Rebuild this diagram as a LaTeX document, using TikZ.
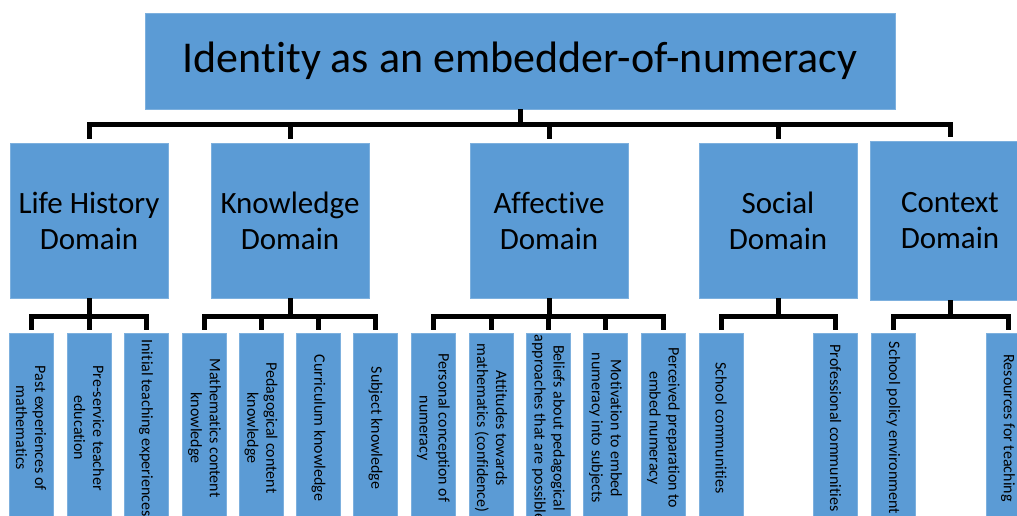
\documentclass[tikz,border=0pt]{standalone}
\usepackage{fontspec}
\setmainfont{Carlito}[Ligatures=NoCommon]
\usepackage{tikz}
\usetikzlibrary{calc}
\definecolor{boxblue}{HTML}{5B9BD5}
\definecolor{boxedge}{HTML}{7DB0DE}
\tikzset{
  block/.style={fill=boxblue,draw=boxedge,line width=0.6pt,inner sep=0pt,align=center,text=black},
  rootbox/.style={block,minimum width=750pt,minimum height=96pt,font=\fontsize{44}{50}\selectfont},
  domainbox/.style={block,minimum width=158pt,minimum height=155pt,font=\fontsize{31}{36}\selectfont},
  leafbox/.style={block,minimum width=44pt,minimum height=190pt},
  link/.style={line width=5pt,draw=black}
}
\newcommand{\leaftext}[1]{\rotatebox{-90}{\parbox{190pt}{\centering\fontsize{16}{19}\selectfont #1}}}

\begin{document}
\begin{tikzpicture}[x=1pt,y=-1pt]
	\useasboundingbox (0,0) rectangle (1017,515);
	% root
	\node[rootbox] (top) at (520,61) {Identity as an embedder-of-numeracy};
	% domains
	\node[domainbox] (lh) at (89,220.5) {Life History\\Domain};
	\node[domainbox] (kn) at (290,220.5) {Knowledge\\Domain};
	\node[domainbox] (af) at (549,220.5) {Affective\\Domain};
	\node[domainbox] (so) at (778,220.5) {Social\\Domain};
	\node[domainbox,minimum width=160pt,minimum height=159pt] (co) at (950,220.5) {Context\\Domain};
	\foreach \c in {lh,kn,af,so,co}
		\draw[link] (top.south) -- ++(0,15.5) -| ([yshift=4pt]\c.north);
	% life history
	\node[leafbox] (lh1) at (31,428) {\leaftext{Past experiences of\\mathematics}};
	\node[leafbox] (lh2) at (89,428) {\leaftext{Pre-service teacher\\education}};
	\node[leafbox] (lh3) at (146,428) {\leaftext{Initial teaching experiences}};
	% knowledge
	\node[leafbox] (kn1) at (204.5,428) {\leaftext{Mathematics content\\knowledge}};
	\node[leafbox] (kn2) at (261,428) {\leaftext{Pedagogical content\\knowledge}};
	\node[leafbox] (kn3) at (318.5,428) {\leaftext{Curriculum knowledge}};
	\node[leafbox] (kn4) at (375.5,428) {\leaftext{Subject knowledge}};
	% affective
	\node[leafbox] (af1) at (433.5,428) {\leaftext{Personal conception of\\numeracy}};
	\node[leafbox] (af2) at (491,428) {\leaftext{Attitudes towards\\mathematics (confidence)}};
	\node[leafbox] (af3) at (548.5,428) {\leaftext{Beliefs about pedagogical\\approaches that are possible}};
	\node[leafbox] (af4) at (605.5,428) {\leaftext{Motivation to embed\\numeracy into subjects}};
	\node[leafbox] (af5) at (663.5,428) {\leaftext{Perceived preparation to\\embed numeracy}};
	% social
	\node[leafbox] (so1) at (721,428) {\leaftext{School communities}};
	\node[leafbox] (so2) at (835.5,428) {\leaftext{Professional communities}};
	% context
	\node[leafbox] (co1) at (893.5,428) {\leaftext{School policy environment}};
	\node[leafbox] (co2) at (1008,428) {\leaftext{Resources for teaching}};
	\foreach \c in {lh1,lh2,lh3}
		\draw[link] (lh.south) -- ++(0,18) -| ([yshift=3pt]\c.north);
	\foreach \c in {kn1,kn2,kn3,kn4}
		\draw[link] (kn.south) -- ++(0,18) -| ([yshift=3pt]\c.north);
	\foreach \c in {af1,af2,af3,af4,af5}
		\draw[link] (af.south) -- ++(0,18) -| ([yshift=3pt]\c.north);
	\foreach \c in {so1,so2}
		\draw[link] (so.south) -- ++(0,18) -| ([yshift=3pt]\c.north);
	\foreach \c in {co1,co2}
		\draw[link] (co.south) -- ++(0,16) -| ([yshift=3pt]\c.north);
\end{tikzpicture}
\end{document}
